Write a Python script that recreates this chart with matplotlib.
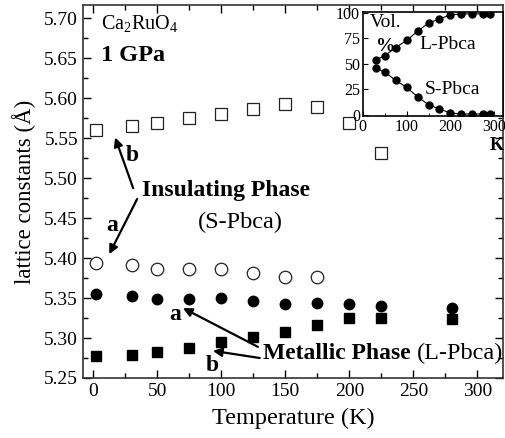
import matplotlib
matplotlib.use('Agg')
import matplotlib.pyplot as plt
from matplotlib.ticker import MultipleLocator

plt.rcParams['font.family'] = ['Liberation Serif', 'DejaVu Serif']
plt.rcParams['mathtext.fontset'] = 'custom'
plt.rcParams['mathtext.rm'] = 'Liberation Serif'
plt.rcParams['mathtext.it'] = 'Liberation Serif:italic'
plt.rcParams['mathtext.bf'] = 'Liberation Serif:bold'

# main panel: lattice constants vs temperature
temp_ins = [2, 30, 50, 75, 100, 125, 150, 175, 200, 225]
b_ins = [5.560, 5.565, 5.569, 5.575, 5.580, 5.586, 5.593, 5.589, 5.569, 5.531]
temp_ins_a = [2, 30, 50, 75, 100, 125, 150, 175]
a_ins = [5.394, 5.392, 5.386, 5.386, 5.386, 5.381, 5.377, 5.377]

temp_met = [2, 30, 50, 75, 100, 125, 150, 175, 200, 225, 280]
a_met = [5.355, 5.3525, 5.349, 5.349, 5.350, 5.346, 5.342, 5.344, 5.342, 5.3396, 5.338]
b_met = [5.2775, 5.279, 5.282, 5.288, 5.2946, 5.301, 5.308, 5.316, 5.3246, 5.3246, 5.324]

# inset: volume fractions
temp_vol = [30, 50, 75, 100, 125, 150, 175, 200, 225, 250, 275, 290]
vol_L = [54, 58, 66, 73, 82, 90, 94, 98, 99, 99, 99, 99]
vol_S = [46, 42, 34, 27, 18, 10, 6, 2, 1, 1, 1, 1]

fig = plt.figure(figsize=(5.06, 4.38), dpi=100)
ax = fig.add_axes([0.164, 0.137, 0.830, 0.852])

ax.plot(temp_ins, b_ins, 's', ms=8.5, mfc='white', mec='#222222', mew=0.9)
ax.plot(temp_ins_a, a_ins, 'o', ms=9, mfc='white', mec='#222222', mew=0.9)
ax.plot(temp_met, a_met, 'o', ms=7.5, color='black')
ax.plot(temp_met, b_met, 's', ms=6.5, color='black')

ax.set_xlim(-8, 320)
ax.set_ylim(5.25, 5.717)
ax.xaxis.set_major_locator(MultipleLocator(50))
ax.xaxis.set_minor_locator(MultipleLocator(25))
ax.yaxis.set_major_locator(MultipleLocator(0.05))
ax.yaxis.set_minor_locator(MultipleLocator(0.025))
ax.yaxis.set_major_formatter(matplotlib.ticker.FormatStrFormatter('%.2f'))
ax.tick_params(which='both', direction='in', top=True, right=True, labelsize=14, width=1)
ax.tick_params(which='major', length=6)
ax.tick_params(which='minor', length=3.5)
for s in ax.spines.values():
    s.set_linewidth(1.2)
    s.set_color('#333333')
ax.set_xlabel('Temperature (K)', fontsize=17.5, labelpad=6)
ax.set_ylabel('lattice constants (Å)', fontsize=16.5, labelpad=6)

ax.text(6, 5.694, 'Ca$_2$RuO$_4$', fontsize=14.5, va='center')
ax.text(6, 5.653, '1 GPa', fontsize=17.5, fontweight='bold', va='center')

arrow = dict(arrowstyle='-|>', lw=1.6, color='black', mutation_scale=13, shrinkA=0, shrinkB=0)
ax.text(37.9, 5.485, 'Insulating Phase', fontsize=17, fontweight='bold', va='center')
ax.text(81.8, 5.445, '(S-Pbca)', fontsize=17.5, va='center')
ax.text(30.4, 5.529, 'b', fontsize=17, fontweight='bold', ha='center', va='center')
ax.text(14.8, 5.441, 'a', fontsize=17, fontweight='bold', ha='center', va='center')
ax.annotate('', xy=(17.1, 5.551), xytext=(31.2, 5.4875), arrowprops=arrow)
ax.annotate('', xy=(12.5, 5.405), xytext=(34.3, 5.474), arrowprops=arrow)

ax.text(132.5, 5.281, 'Metallic Phase', fontsize=17, fontweight='bold', va='center')
ax.text(253, 5.281, '(L-Pbca)', fontsize=17.5, va='center')
ax.text(63.9, 5.329, 'a', fontsize=17, fontweight='bold', ha='center', va='center')
ax.text(92.7, 5.266, 'b', fontsize=17, fontweight='bold', ha='center', va='center')
ax.annotate('', xy=(70.1, 5.3375), xytext=(128.6, 5.289), arrowprops=arrow)
ax.annotate('', xy=(93.5, 5.284), xytext=(130.1, 5.275), arrowprops=arrow)

# inset
ins = fig.add_axes([0.717, 0.735, 0.277, 0.238])
ins.plot(temp_vol, vol_L, 'o-', ms=5, color='black', lw=0.8)
ins.plot(temp_vol, vol_S, 'o-', ms=5, color='black', lw=0.8)
ins.set_xlim(0, 320)
ins.set_ylim(-1, 101)
ins.xaxis.set_major_locator(MultipleLocator(100))
ins.xaxis.set_minor_locator(MultipleLocator(50))
ins.yaxis.set_major_locator(MultipleLocator(25))
ins.tick_params(which='both', direction='in', labelsize=11.5, pad=2)
ins.tick_params(which='major', length=3.5)
ins.tick_params(which='minor', length=2)
for s in ins.spines.values():
    s.set_linewidth(1.2)
ins.text(16, 91, 'Vol.', fontsize=14, va='center')
ins.text(30, 67, '%', fontsize=14, fontweight='bold', va='center')
ins.text(130, 69, 'L-Pbca', fontsize=14, va='center')
ins.text(141, 25, 'S-Pbca', fontsize=14, va='center')
ins.text(322, -30, 'K', fontsize=13, fontweight='bold', ha='right', va='center')

fig.savefig('out.png', dpi=100)
